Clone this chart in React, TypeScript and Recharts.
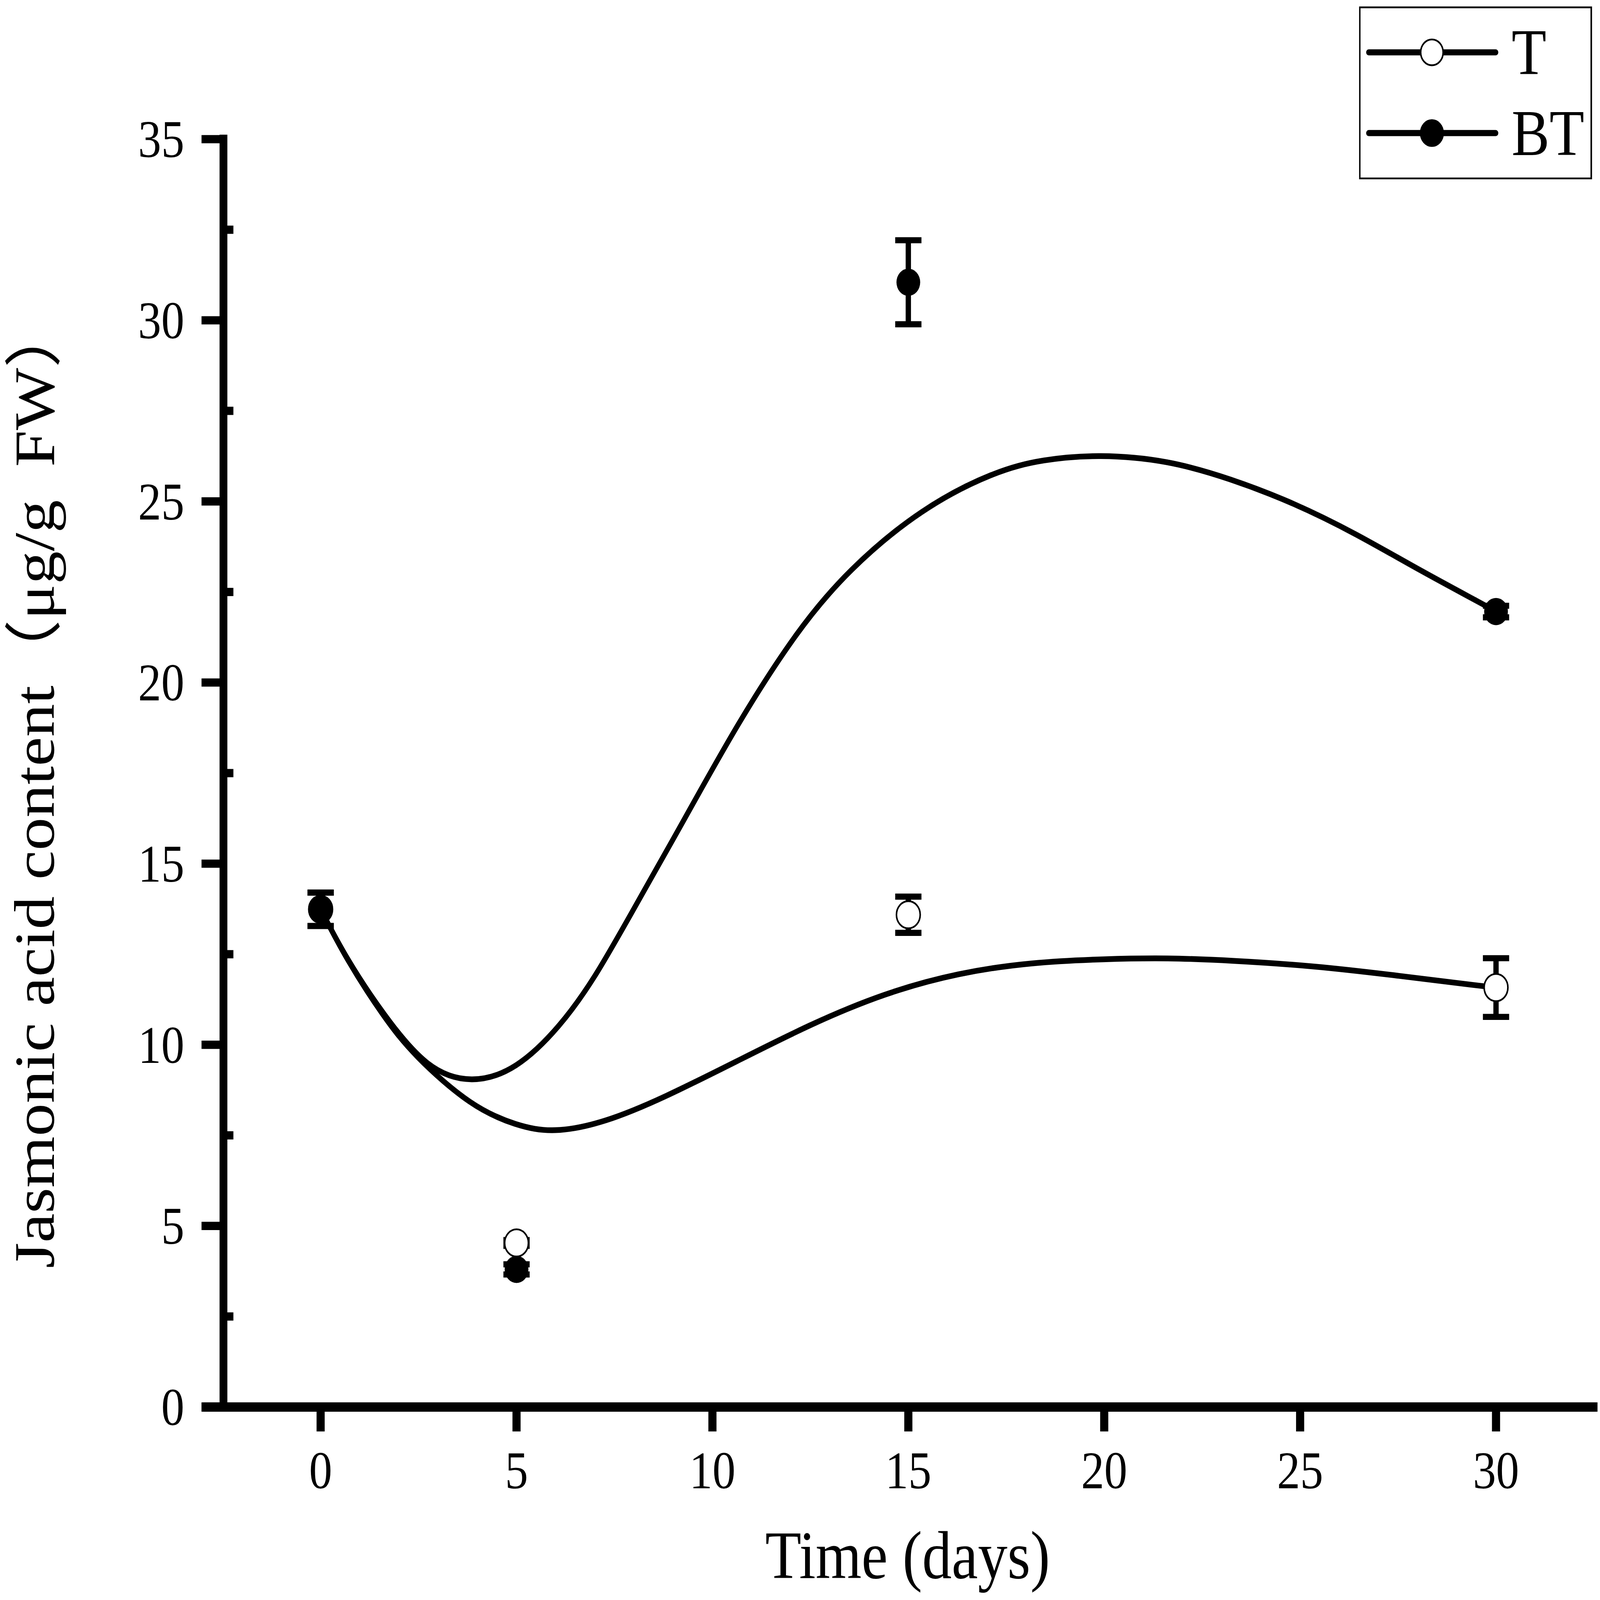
import React from "react";
import {
	ComposedChart,
	Line,
	Scatter,
	XAxis,
	YAxis,
	ErrorBar,
	ReferenceLine,
	Legend,
	Label,
} from "recharts";

// measured means and SD at each sampling day
const days = [0, 5, 15, 30];
const tMean = [13.74, 4.53, 13.59, 11.58];
const tSd = [0.46, 0.08, 0.5, 0.81];
const btMean = [13.74, 3.8, 31.05, 21.96];
const btSd = [0.46, 0.14, 1.16, 0.16];

// smoothed curves
const tFitDays = [0, 0.66, 1.6, 2.36, 3.86, 4.99, 5.93, 7.25, 8.75, 10.63, 12.52, 14.4, 16.28, 18.16, 20.02, 21.62, 23.22, 25.36, 27.49, 29.63, 30];
const tFitValues = [13.74, 12.35, 10.78, 9.72, 8.28, 7.77, 7.56, 7.85, 8.53, 9.55, 10.58, 11.43, 11.99, 12.28, 12.37, 12.4, 12.33, 12.18, 11.91, 11.62, 11.58];
const btFitDays = [0, 0.66, 1.6, 2.73, 3.86, 4.99, 6.12, 7.0, 7.81, 9.32, 10.63, 12.14, 13.46, 15.34, 17.22, 18.42, 19.86, 21.62, 23.22, 24.82, 26.43, 28.03, 29.74, 30];
const btFitValues = [13.74, 12.37, 10.83, 9.3, 8.92, 9.3, 10.5, 11.85, 13.4, 16.29, 18.85, 21.41, 23.11, 24.82, 25.84, 26.16, 26.3, 26.14, 25.63, 24.97, 24.11, 23.11, 22.12, 21.96];

const xTicks = [0, 5, 10, 15, 20, 25, 30];
const yTicks = [0, 2.5, 5, 7.5, 10, 12.5, 15, 17.5, 20, 22.5, 25, 27.5, 30, 32.5, 35];

const legendItems = [
	{ name: "T", filled: false },
	{ name: "BT", filled: true },
];

const tPoints = days.map((d, i) => ({ x: d, y: tMean[i], err: tSd[i] }));
const btPoints = days.map((d, i) => ({ x: d, y: btMean[i], err: btSd[i] }));
const tFit = tFitDays.map((d, i) => ({ x: d, y: tFitValues[i] }));
const btFit = btFitDays.map((d, i) => ({ x: d, y: btFitValues[i] }));

const W = 5121;
const H = 4461;
const PLOT_LEFT = 645;
const Y_AXIS_W = 60;
const AXIS_X = 715;
const SERIF = "'Liberation Serif', 'Times New Roman', 'Noto Sans CJK SC', serif";

const XTick = (props: any) => {
	const { x, y, payload } = props;
	return (
		<g>
			<line x1={x} x2={x} y1={y} y2={y + 68} stroke="#000" strokeWidth={26} />
			<text x={x} y={4150} textAnchor="middle" fontSize={148} fontFamily={SERIF} fill="#000">
				{payload.value}
			</text>
		</g>
	);
};

const YTick = (props: any) => {
	const { y, payload } = props;
	const v = payload.value;
	if (v % 5 !== 0) {
		return <line x1={AXIS_X} x2={AXIS_X + 32} y1={y} y2={y} stroke="#000" strokeWidth={23} />;
	}
	return (
		<g>
			<line x1={PLOT_LEFT} x2={AXIS_X} y1={y} y2={y} stroke="#000" strokeWidth={23} />
			<text x={590} y={y + 50} textAnchor="end" fontSize={148} fontFamily={SERIF} fill="#000">
				{v}
			</text>
		</g>
	);
};

const OpenDot = (p: any) => (
	<circle cx={p.cx} cy={p.cy} r={38} fill="#fff" stroke="#000" strokeWidth={5} />
);
const FilledDot = (p: any) => <circle cx={p.cx} cy={p.cy} r={38} fill="#000" />;

const LegendBox = () => (
	<svg width={746} height={484}>
		<rect x={2} y={4.5} width={741} height={477} fill="#fff" stroke="#000" strokeWidth={5} />
		{legendItems.map((item, i) => {
			const cy = 130 + i * 225;
			return (
				<g key={item.name}>
					<line x1={31} x2={437} y1={cy} y2={cy} stroke="#000" strokeWidth={17} strokeLinecap="round" />
					<circle
						cx={233}
						cy={cy}
						r={36}
						fill={item.filled ? "#000" : "#fff"}
						stroke="#000"
						strokeWidth={5}
					/>
					<text x={488} y={cy + 61} fontSize={182} fontFamily={SERIF} fill="#000">
						{item.name}
					</text>
				</g>
			);
		})}
	</svg>
);

const JasmonicAcidChart: React.FC = () => {
	// the page may be smaller than the figure, so stretch the figure onto the viewport
	const vw = typeof window !== "undefined" ? window.innerWidth : W;
	const vh = typeof window !== "undefined" ? window.innerHeight : H;
	const sx = vw / W;
	const sy = vh / H;
	return (
		<div
			style={{
				position: "absolute",
				left: 0,
				top: 0,
				width: W,
				height: H,
				background: "#fff",
				transform: `scale(${sx}, ${sy})`,
				transformOrigin: "0 0",
			}}
		>
			<ComposedChart
				width={W}
				height={H}
				margin={{ top: 388, right: 8, bottom: 38, left: PLOT_LEFT - Y_AXIS_W }}
			>
				<XAxis
					type="number"
					dataKey="x"
					domain={[-3.04, 32.59]}
					ticks={xTicks}
					interval={0}
					height={500}
					tickSize={0}
					tickMargin={0}
					tickLine={false}
					axisLine={{ stroke: "#000", strokeWidth: 26 }}
					tick={<XTick />}
				>
					<Label
						content={() => (
							<text x={2905} y={4400} textAnchor="middle" fontSize={189} fontFamily={SERIF} fill="#000">
								Time (days)
							</text>
						)}
					/>
				</XAxis>
				<YAxis
					type="number"
					dataKey="y"
					domain={[0, 35]}
					ticks={yTicks}
					interval={0}
					width={Y_AXIS_W}
					tickSize={0}
					tickMargin={0}
					tickLine={false}
					axisLine={false}
					tick={<YTick />}
				>
					<Label
						content={() => (
							<text
								x={172}
								y={2189}
								transform="rotate(-90 172 2189)"
								textAnchor="middle"
								fontSize={184}
								fontFamily={SERIF}
								fill="#000"
							>
								Jasmonic acid content（μg/g{"\u00a0\u00a0"}FW）
							</text>
						)}
					/>
				</YAxis>
				<ReferenceLine
					segment={[
						{ x: -2.48, y: 0 },
						{ x: -2.48, y: 35 },
					]}
					stroke="#000"
					strokeWidth={25}
					strokeLinecap="square"
				/>
				<Line
					data={tFit}
					dataKey="y"
					type="basis"
					stroke="#000"
					strokeWidth={16}
					dot={false}
					activeDot={false}
					legendType="none"
					isAnimationActive={false}
				/>
				<Line
					data={btFit}
					dataKey="y"
					type="basis"
					stroke="#000"
					strokeWidth={16}
					dot={false}
					activeDot={false}
					legendType="none"
					isAnimationActive={false}
				/>
				<Scatter name="T" data={tPoints} dataKey="y" shape={OpenDot} isAnimationActive={false}>
					<ErrorBar dataKey="err" direction="y" width={42} strokeWidth={17} stroke="#000" isAnimationActive={false} />
				</Scatter>
				<Scatter name="BT" data={btPoints} dataKey="y" shape={FilledDot} isAnimationActive={false}>
					<ErrorBar dataKey="err" direction="y" width={42} strokeWidth={17} stroke="#000" isAnimationActive={false} />
				</Scatter>
				<Legend
					content={<LegendBox />}
					layout="horizontal"
					verticalAlign="middle"
					align="center"
					wrapperStyle={{ left: 4350, top: 16, width: 746, height: 484 }}
				/>
			</ComposedChart>
		</div>
	);
};

export default JasmonicAcidChart;
